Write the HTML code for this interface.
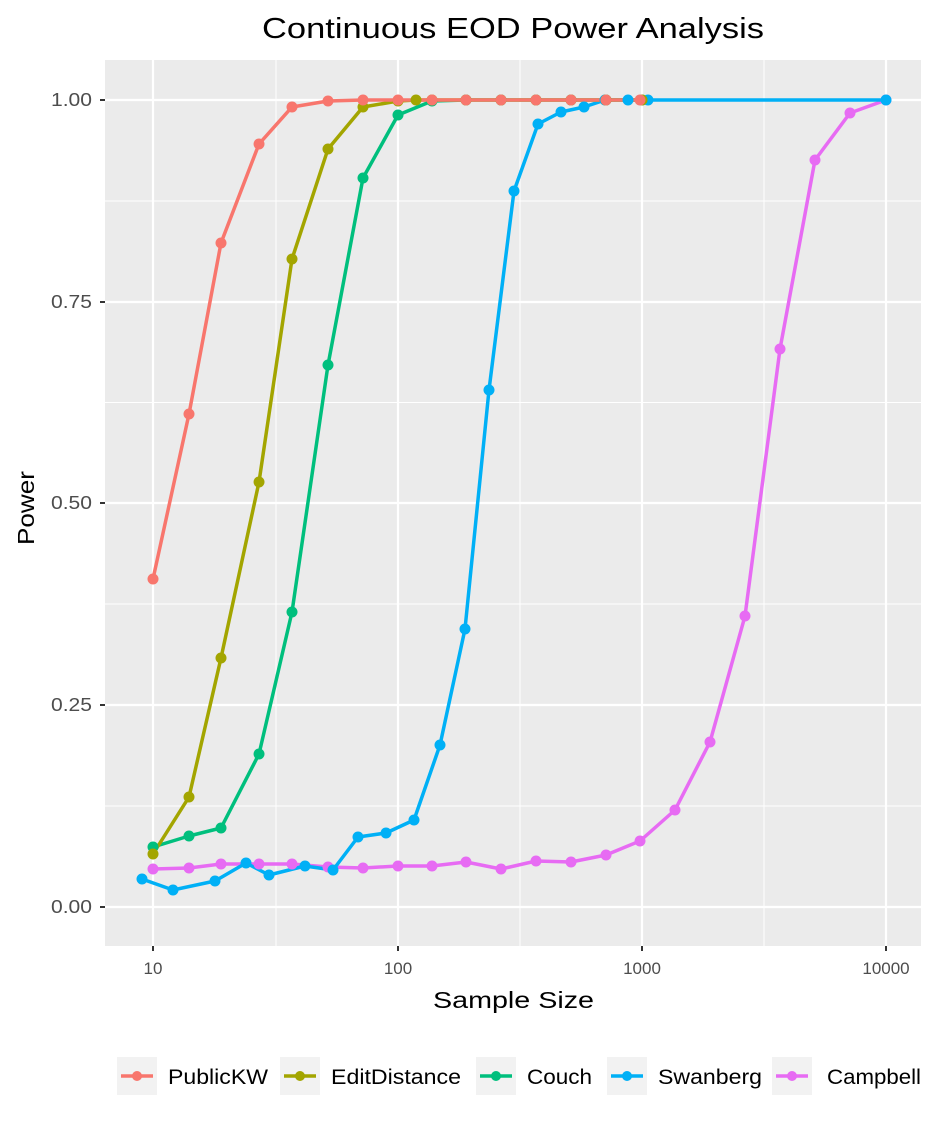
<!DOCTYPE html><html><head><style>body{margin:0;background:#fff}svg text{font-family:"Liberation Sans",Arial,sans-serif}</style></head><body>
<svg width="936" height="1124" xmlns="http://www.w3.org/2000/svg">
<rect width="936" height="1124" fill="#fff"/>
<text x="262" y="38" font-size="29" textLength="502" lengthAdjust="spacingAndGlyphs" fill="#000">Continuous EOD Power Analysis</text>
<rect x="105" y="60" width="816" height="886" fill="#EBEBEB"/>
<g stroke="#fff" stroke-width="1">
<line x1="276" x2="276" y1="60" y2="946"/><line x1="520" x2="520" y1="60" y2="946"/><line x1="764" x2="764" y1="60" y2="946"/>
<line x1="105" x2="921" y1="201" y2="201"/><line x1="105" x2="921" y1="402.5" y2="402.5"/><line x1="105" x2="921" y1="604" y2="604"/><line x1="105" x2="921" y1="806" y2="806"/>
</g>
<g stroke="#fff" stroke-width="2.2">
<line x1="153" x2="153" y1="60" y2="946"/><line x1="398" x2="398" y1="60" y2="946"/><line x1="642" x2="642" y1="60" y2="946"/><line x1="886" x2="886" y1="60" y2="946"/>
<line x1="105" x2="921" y1="100" y2="100"/><line x1="105" x2="921" y1="302" y2="302"/><line x1="105" x2="921" y1="503" y2="503"/><line x1="105" x2="921" y1="705" y2="705"/><line x1="105" x2="921" y1="907" y2="907"/>
</g>
<g stroke="#333" stroke-width="2">
<line x1="100" x2="105" y1="100" y2="100"/><line x1="100" x2="105" y1="302" y2="302"/><line x1="100" x2="105" y1="503" y2="503"/><line x1="100" x2="105" y1="705" y2="705"/><line x1="100" x2="105" y1="907" y2="907"/>
<line x1="153" x2="153" y1="946" y2="951"/><line x1="398" x2="398" y1="946" y2="951"/><line x1="642" x2="642" y1="946" y2="951"/><line x1="886" x2="886" y1="946" y2="951"/>
</g>
<g font-size="18" fill="#4D4D4D">
<text x="51" y="106" textLength="41" lengthAdjust="spacingAndGlyphs">1.00</text><text x="51" y="308" textLength="41" lengthAdjust="spacingAndGlyphs">0.75</text><text x="51" y="509" textLength="41" lengthAdjust="spacingAndGlyphs">0.50</text><text x="51" y="711" textLength="41" lengthAdjust="spacingAndGlyphs">0.25</text><text x="51" y="913" textLength="41" lengthAdjust="spacingAndGlyphs">0.00</text>
</g>
<g font-size="17" fill="#4D4D4D" text-anchor="middle">
<text x="153" y="974">10</text><text x="398" y="974">100</text><text x="642" y="974">1000</text><text x="886" y="974">10000</text>
</g>
<text x="433" y="1008" font-size="23" textLength="161" lengthAdjust="spacingAndGlyphs">Sample Size</text>
<text transform="translate(34,545) rotate(-90)" font-size="23" textLength="74" lengthAdjust="spacingAndGlyphs">Power</text>
<g fill="none" stroke-width="3.5" stroke-linejoin="round">
<polyline stroke="#E76BF3" points="153,869 189,868 221,864 259,864 292,864 328,867 363,868 398,866 432,866 466,862 501,869 536,861 571,862 606,855 640,841 675,810 710,742 745,616 780,349 815,160 850,113 886,100"/>
<polyline stroke="#00B0F6" points="142,879 173,890 215,881 246,863 269,875 305,866 333,870 358,837 386,833 414,820 440,745 465,629 489,390 514,191 538,124 561,112 584,107 605,100 628,100 648,100 886,100"/>
<polyline stroke="#00BF7D" points="153,847 189,836 221,828 259,754 292,612 328,365 363,178 398,115 432,101 466,100 501,100 536,100 571,100 606,100 642,100"/>
<polyline stroke="#A3A500" points="153,854 189,797 221,658 259,482 292,259 328,149 363,107 398,101 416,100 432,100 466,100 501,100 536,100 571,100 606,100 642,100"/>
<polyline stroke="#F8766D" points="153,579 189,414 221,243 259,144 292,107 328,101 363,100 398,100 432,100 466,100 501,100 536,100 571,100 606,100 640,100"/>
</g>
<g id="pts"></g>
<g font-size="21" fill="#000">
<rect x="117" y="1057" width="40" height="38" fill="#F2F2F2"/><line x1="121" x2="153" y1="1076" y2="1076" stroke="#F8766D" stroke-width="3.5"/><circle cx="137" cy="1076" r="5" fill="#F8766D"/><text x="168" y="1084" textLength="100" lengthAdjust="spacingAndGlyphs">PublicKW</text>
<rect x="280" y="1057" width="40" height="38" fill="#F2F2F2"/><line x1="284" x2="316" y1="1076" y2="1076" stroke="#A3A500" stroke-width="3.5"/><circle cx="300" cy="1076" r="5" fill="#A3A500"/><text x="331" y="1084" textLength="130" lengthAdjust="spacingAndGlyphs">EditDistance</text>
<rect x="476" y="1057" width="40" height="38" fill="#F2F2F2"/><line x1="480" x2="512" y1="1076" y2="1076" stroke="#00BF7D" stroke-width="3.5"/><circle cx="496" cy="1076" r="5" fill="#00BF7D"/><text x="527" y="1084" textLength="65" lengthAdjust="spacingAndGlyphs">Couch</text>
<rect x="607" y="1057" width="40" height="38" fill="#F2F2F2"/><line x1="611" x2="643" y1="1076" y2="1076" stroke="#00B0F6" stroke-width="3.5"/><circle cx="627" cy="1076" r="5" fill="#00B0F6"/><text x="658" y="1084" textLength="104" lengthAdjust="spacingAndGlyphs">Swanberg</text>
<rect x="772" y="1057" width="40" height="38" fill="#F2F2F2"/><line x1="776" x2="808" y1="1076" y2="1076" stroke="#E76BF3" stroke-width="3.5"/><circle cx="792" cy="1076" r="5" fill="#E76BF3"/><text x="827" y="1084" textLength="94" lengthAdjust="spacingAndGlyphs">Campbell</text>
</g>
</svg>
<script>
var d={"#E76BF3":"153,869 189,868 221,864 259,864 292,864 328,867 363,868 398,866 432,866 466,862 501,869 536,861 571,862 606,855 640,841 675,810 710,742 745,616 780,349 815,160 850,113 886,100",
"#00B0F6":"142,879 173,890 215,881 246,863 269,875 305,866 333,870 358,837 386,833 414,820 440,745 465,629 489,390 514,191 538,124 561,112 584,107 605,100 628,100 648,100 886,100",
"#00BF7D":"153,847 189,836 221,828 259,754 292,612 328,365 363,178 398,115 432,101 466,100 501,100 536,100 571,100 606,100 642,100",
"#A3A500":"153,854 189,797 221,658 259,482 292,259 328,149 363,107 398,101 416,100 432,100 466,100 501,100 536,100 571,100 606,100 642,100",
"#F8766D":"153,579 189,414 221,243 259,144 292,107 328,101 363,100 398,100 432,100 466,100 501,100 536,100 571,100 606,100 640,100"};
var g=document.getElementById("pts"),h="";
["#E76BF3","#00B0F6","#00BF7D","#A3A500","#F8766D"].forEach(function(c){d[c].split(" ").forEach(function(p){var a=p.split(",");h+='<circle cx="'+a[0]+'" cy="'+a[1]+'" r="5.5" fill="'+c+'"/>';});});
g.innerHTML=h;
</script>
</body></html>
